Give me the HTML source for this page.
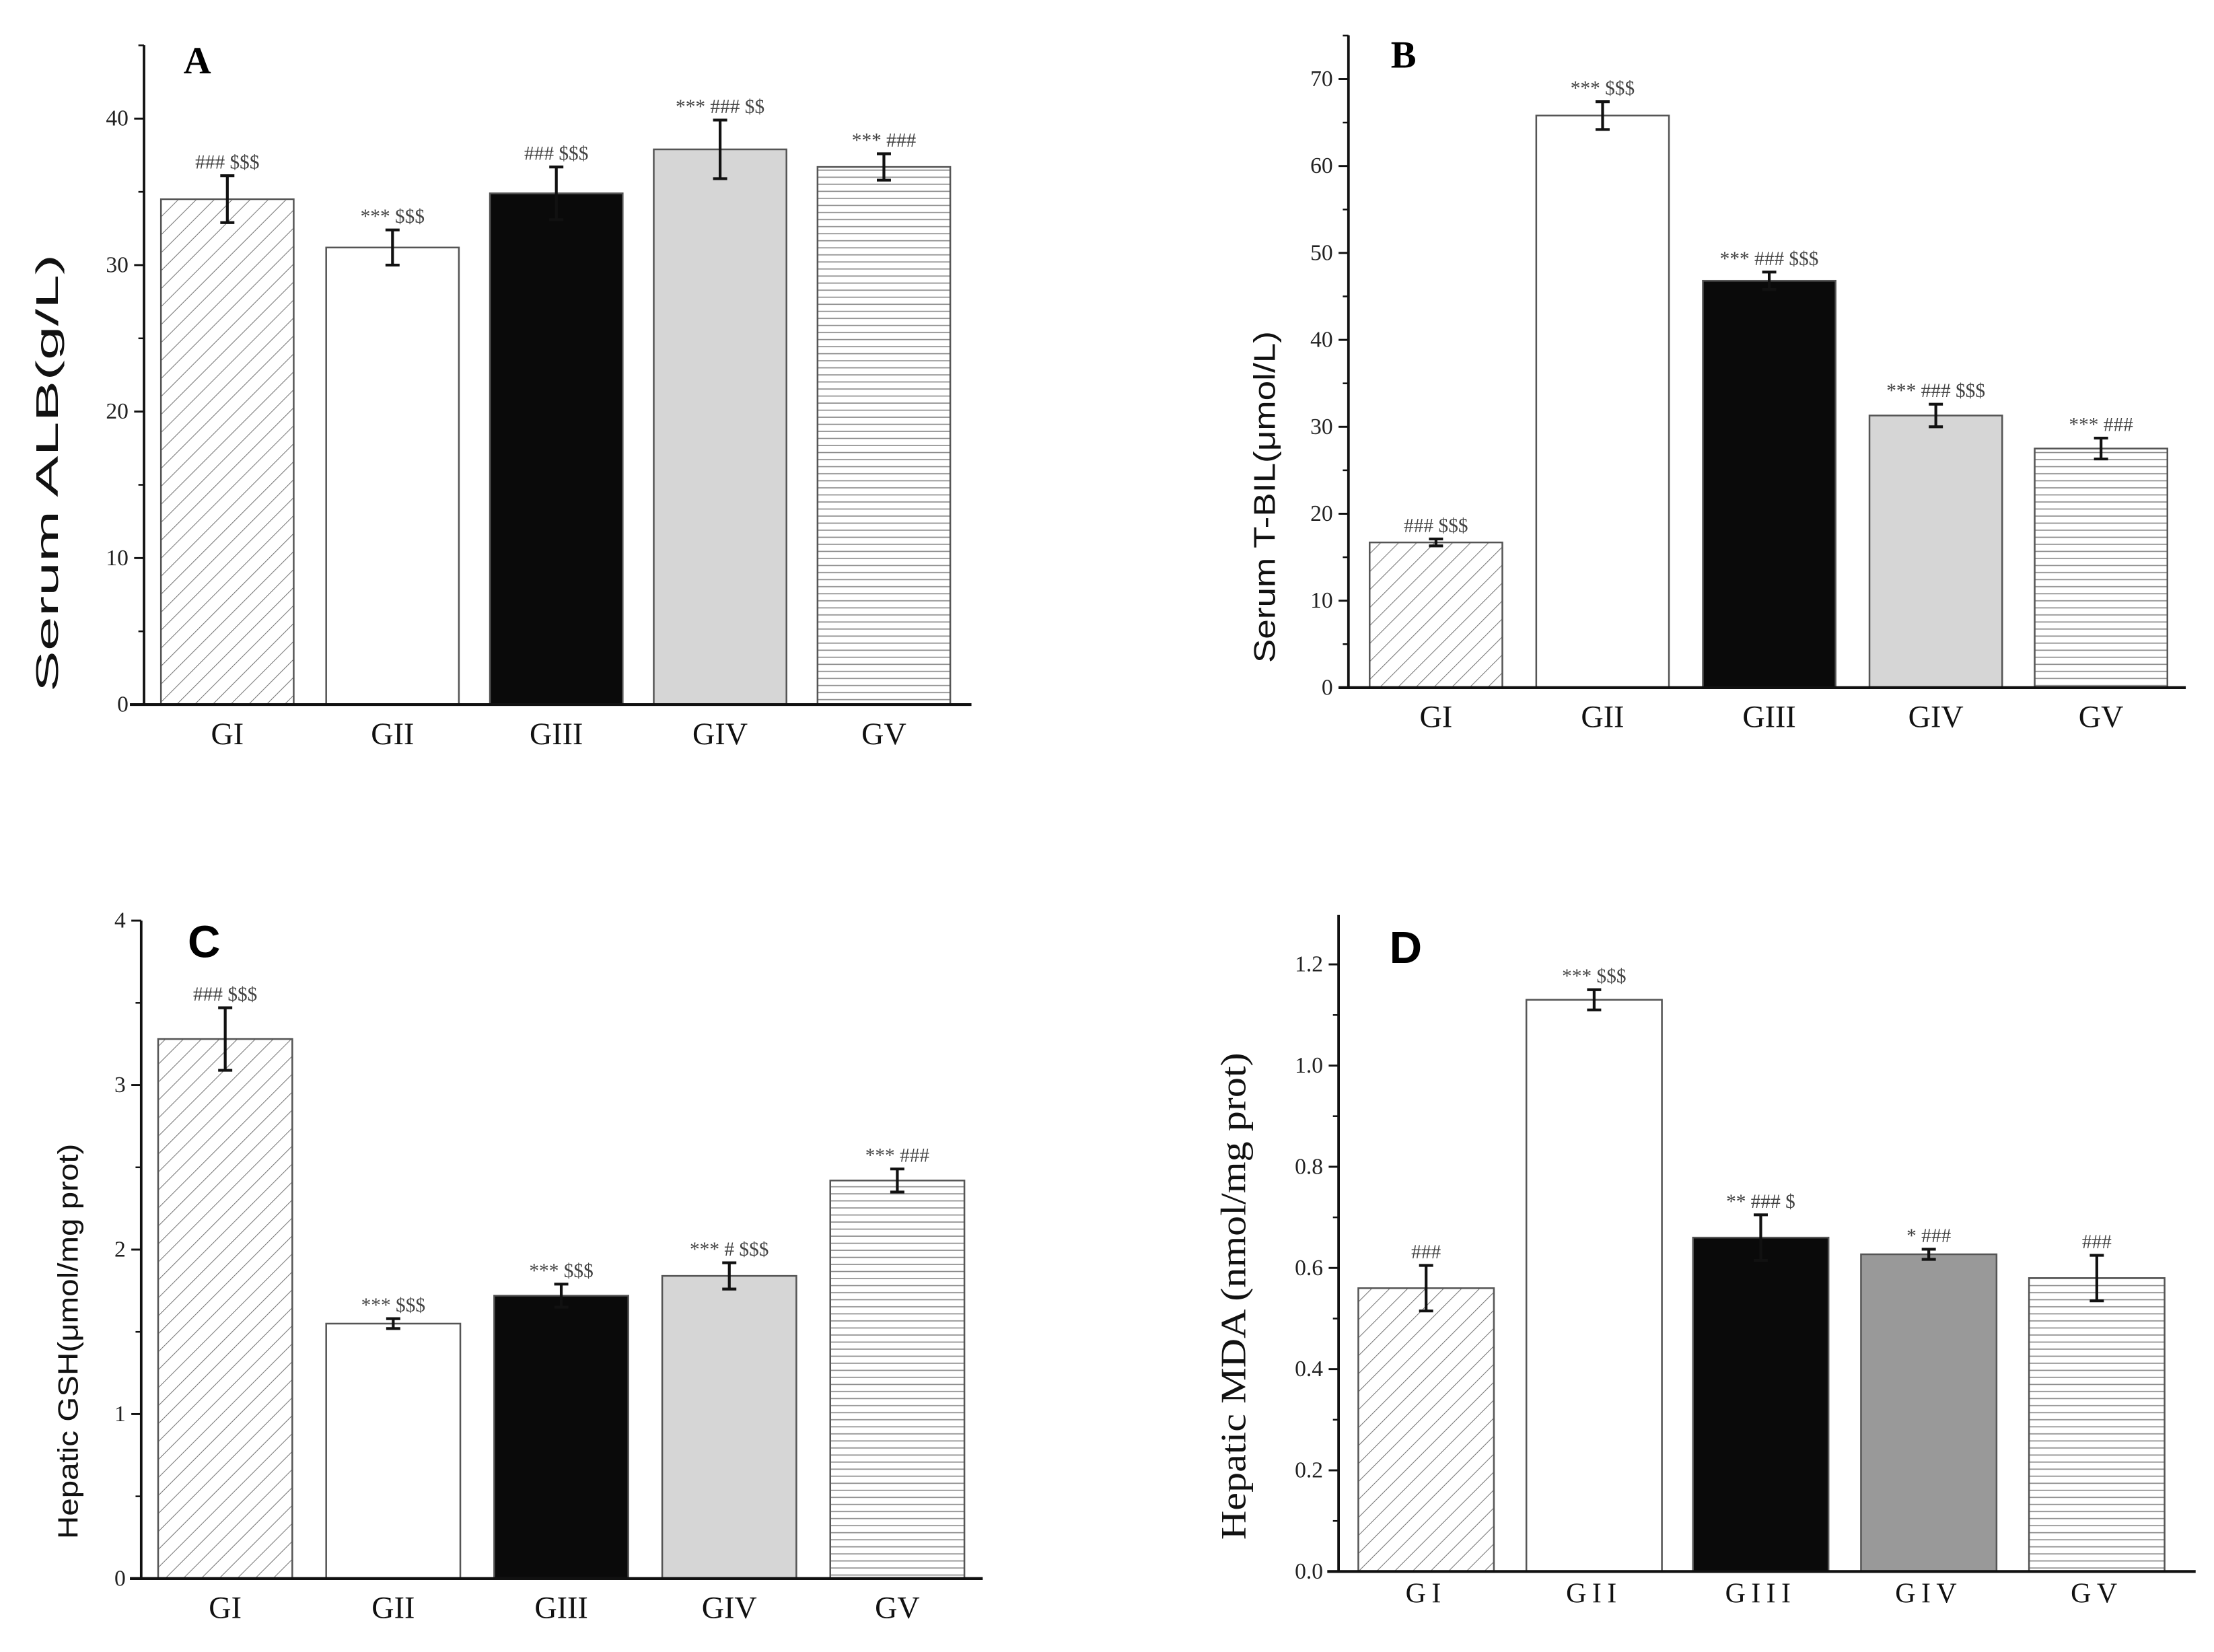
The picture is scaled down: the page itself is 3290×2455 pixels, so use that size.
<!DOCTYPE html>
<html><head><meta charset="utf-8"><style>
html,body{margin:0;padding:0;background:#fff;}
svg{display:block;}
</style></head><body>
<svg id="fig" width="3290" height="2455" viewBox="0 0 1568 1170" preserveAspectRatio="none" xmlns="http://www.w3.org/2000/svg">
<defs>
<pattern id="diag" patternUnits="userSpaceOnUse" width="9" height="9" patternTransform="rotate(45)">
<rect width="9" height="9" fill="#fff"/><line x1="0" y1="0" x2="0" y2="9" stroke="#777" stroke-width="1"/></pattern>
<pattern id="horiz" patternUnits="userSpaceOnUse" width="8" height="5">
<rect width="8" height="5" fill="#fff"/><line x1="0" y1="0.5" x2="8" y2="0.5" stroke="#888" stroke-width="0.8"/></pattern>
</defs>
</svg>
<script>
const categories = ["GI","GII","GIII","GIV","GV"];
const valuesA = [34.5, 31.2, 34.9, 37.9, 36.7];
const errorsA = [1.6, 1.2, 1.8, 2.0, 0.9];
const notesA = ["### $$$","*** $$$","### $$$","*** ### $$","*** ###"];
const ticksA = [0,10,20,30,40];
const valuesB = [16.7, 65.8, 46.8, 31.3, 27.5];
const errorsB = [0.4, 1.6, 1.0, 1.3, 1.2];
const notesB = ["### $$$","*** $$$","*** ### $$$","*** ### $$$","*** ###"];
const ticksB = [0,10,20,30,40,50,60,70];
const valuesC = [3.28, 1.55, 1.72, 1.84, 2.42];
const errorsC = [0.19, 0.03, 0.07, 0.08, 0.07];
const notesC = ["### $$$","*** $$$","*** $$$","*** # $$$","*** ###"];
const ticksC = [0,1,2,3,4];
const valuesD = [0.56, 1.13, 0.66, 0.627, 0.58];
const errorsD = [0.045, 0.02, 0.045, 0.01, 0.045];
const notesD = ["###","*** $$$","** ### $","* ###","###"];
const ticksD = ["0.0","0.2","0.4","0.6","0.8","1.0","1.2"];

const svg = document.getElementById('fig');
const NS = 'http://www.w3.org/2000/svg';
function mk(tag, attrs, parent){const e=document.createElementNS(NS,tag);for(const k in attrs)e.setAttribute(k,attrs[k]);(parent||svg).appendChild(e);return e;}

const panels = [
 {id:'a',letter:'A',letterSans:false,lx:130,ly:52,ax:102,ay:499,top:32,xl:92,xr:688,tickVal:40,tickY:84,minor:5,bars:[114,231,347,463,579],bw:94,vals:valuesA,errs:errorsA,notes:notesA,ticks:ticksA,ylab:'Serum ALB(g/L)',ylx:41,yly:335,ylsize:22,ylen:310,ylsans:true,fills:['url(#diag)','#fff','#0a0a0a','#d6d6d6','url(#horiz)'],labY:527},
 {id:'b',letter:'B',letterSans:false,lx:985,ly:48,ax:955,ay:487,top:25,xl:948,xr:1548,tickVal:70,tickY:56,minor:5,bars:[970,1088,1206,1324,1441],bw:94,vals:valuesB,errs:errorsB,notes:notesB,ticks:ticksB,ylab:'Serum T-BIL(μmol/L)',ylx:903,yly:352,ylsize:21,ylen:235,ylsans:true,fills:['url(#diag)','#fff','#0a0a0a','#d6d6d6','url(#horiz)'],labY:515},
 {id:'c',letter:'C',letterSans:true,lx:133,ly:678,ax:100,ay:1118,top:652,xl:92,xr:696,tickVal:4,tickY:652,minor:0.5,bars:[112,231,350,469,588],bw:95,vals:valuesC,errs:errorsC,notes:notesC,ticks:ticksC,ylab:'Hepatic GSH(μmol/mg prot)',ylx:55,yly:950,ylsize:20,ylen:280,ylsans:true,fills:['url(#diag)','#fff','#0a0a0a','#d6d6d6','url(#horiz)'],labY:1146},
 {id:'d',letter:'D',letterSans:true,lx:984,ly:682,ax:948,ay:1113,top:648,xl:940,xr:1555,tickVal:1.2,tickY:683,minor:0.1,bars:[962,1081,1199,1318,1437],bw:96,vals:valuesD,errs:errorsD,notes:notesD,ticks:ticksD,ylab:'Hepatic MDA (nmol/mg prot)',ylx:882,yly:918,ylsize:25,ylen:345,ylsans:false,fills:['url(#diag)','#fff','#0a0a0a','#999','url(#horiz)'],labY:1135}
];

panels.forEach(p=>{
  const g = mk('g',{});
  
  
  const y = v => p.ay - (v/p.tickVal)*(p.ay-p.tickY);
  p.vals.forEach((v,i)=>{
    const r = mk('rect',{x:p.bars[i],y:y(v),width:p.bw,height:p.ay-y(v),fill:p.fills[i],stroke:'#555','stroke-width':1.2},g);
    
    
    const cx = p.bars[i]+p.bw/2;
    const e = p.errs[i];
    const eb = mk('path',{d:`M${cx} ${y(v+e)}V${y(v-e)}M${cx-5} ${y(v+e)}H${cx+5}M${cx-5} ${y(v-e)}H${cx+5}`,stroke:'#111','stroke-width':2,fill:'none'},g);
    
    
    const t = mk('text',{x:cx,y:y(v+e)-5,'text-anchor':'middle','font-family':'Liberation Serif, serif','font-size':14,fill:'#444'},g);
    t.textContent = p.notes[i];
    
    
    const xl = mk('text',{x:cx,y:p.labY,'text-anchor':'middle','font-family':'Liberation Serif, serif','font-size':22,fill:'#111'},g);
    xl.textContent = categories[i];
    if(p.id==='d'){xl.setAttribute('letter-spacing','4');xl.setAttribute('font-size','20');}
    
    
  });
  const ya = mk('line',{x1:p.ax,y1:p.top,x2:p.ax,y2:p.ay,stroke:'#111','stroke-width':1.8},g);
  
  
  const xa = mk('line',{x1:p.xl,y1:p.ay,x2:p.xr,y2:p.ay,stroke:'#111','stroke-width':2},g);
  
  
  const topVal = (p.ay-p.top)/(p.ay-p.tickY)*p.tickVal;
  for(let k=1; k*p.minor<=topVal+1e-9; k+=2){
    const yy=y(k*p.minor);
    mk('line',{x1:p.ax-4,y1:yy,x2:p.ax,y2:yy,stroke:'#111','stroke-width':1.2},g);
  }
  p.ticks.forEach(tv=>{
    const yy = y(parseFloat(tv));
    mk('line',{x1:p.ax-7,y1:yy,x2:p.ax,y2:yy,stroke:'#111','stroke-width':1.4},g);
    const t = mk('text',{x:p.ax-11,y:yy+5,'text-anchor':'end','font-family':'Liberation Serif, serif','font-size':16,fill:'#222'},g);
    t.textContent = tv;
    
    
  });
  const yl = mk('text',{x:p.ylx,y:p.yly,'text-anchor':'middle','font-family':p.ylsans?'Liberation Sans, sans-serif':'Liberation Serif, serif','font-size':p.ylsize,textLength:p.ylen,lengthAdjust:'spacingAndGlyphs',fill:'#111',transform:`rotate(-90 ${p.ylx} ${p.yly})`},g);
  yl.textContent = p.ylab;
  
  
  const L = mk('text',{x:p.lx,y:p.ly,'font-family':p.letterSans?'Liberation Sans, sans-serif':'Liberation Serif, serif','font-weight':'bold','font-size':p.letterSans?32:27,fill:'#000'},g);
  L.textContent = p.letter;
  
  
});
</script>
</body></html>
